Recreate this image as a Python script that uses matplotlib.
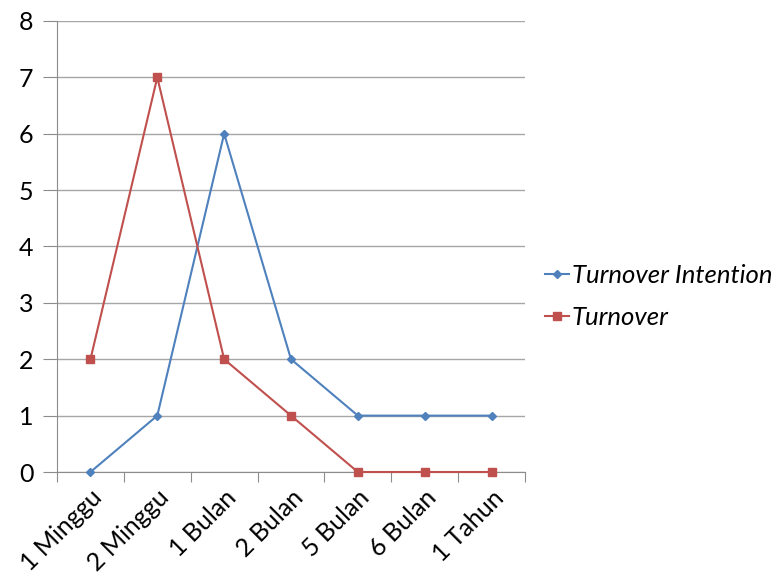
import numpy as np
import matplotlib.pyplot as plt

categories = ['1 Minggu', '2 Minggu', '1 Bulan', '2 Bulan', '5 Bulan', '6 Bulan', '1 Tahun']
intention = [0, 1, 6, 2, 1, 1, 1]
turnover = [2, 7, 2, 1, 0, 0, 0]

plt.rcParams['font.family'] = ['Lato', 'DejaVu Sans']

fig = plt.figure(figsize=(7.76, 5.81), dpi=100)
ax = fig.add_axes([0.0735, 0.1876, 0.603, 0.7763])

x = np.arange(len(categories))
ax.plot(x, intention, color='#4F81BD', marker='D', markersize=4, lw=1.5,
        label='Turnover Intention', clip_on=False, zorder=3)
ax.plot(x, turnover, color='#C0504D', marker='s', markersize=6, lw=1.5,
        label='Turnover', clip_on=False, zorder=3)

ax.set_xlim(-0.5, len(categories) - 0.5)
ax.set_ylim(0, 8)
ax.set_yticks(range(0, 9))
ax.yaxis.grid(True, color='#a6a6a6', lw=1)
ax.set_axisbelow(True)

ax.set_xticks(np.arange(-0.5, len(categories), 1))
ax.set_xticklabels([])
ax.set_xticks(x, minor=True)
ax.set_xticklabels(categories, minor=True, rotation=45, ha='right',
                   rotation_mode='anchor', fontsize=18)
ax.tick_params(axis='x', which='major', length=7, color='#8c8c8c', direction='out')
ax.tick_params(axis='x', which='minor', length=0, pad=10)
ax.tick_params(axis='y', length=10, color='#8c8c8c', labelsize=18, pad=7)

for s in ['top', 'right']:
    ax.spines[s].set_visible(False)
for s in ['left', 'bottom']:
    ax.spines[s].set_color('#8c8c8c')

leg = ax.legend(loc='center left', bbox_to_anchor=(0.672, 0.49),
                bbox_transform=fig.transFigure, frameon=False,
                prop={'size': 18.5, 'style': 'italic'}, handlelength=0.95,
                handletextpad=0.1, labelspacing=0.75)

fig.savefig('out.png', dpi=100)
